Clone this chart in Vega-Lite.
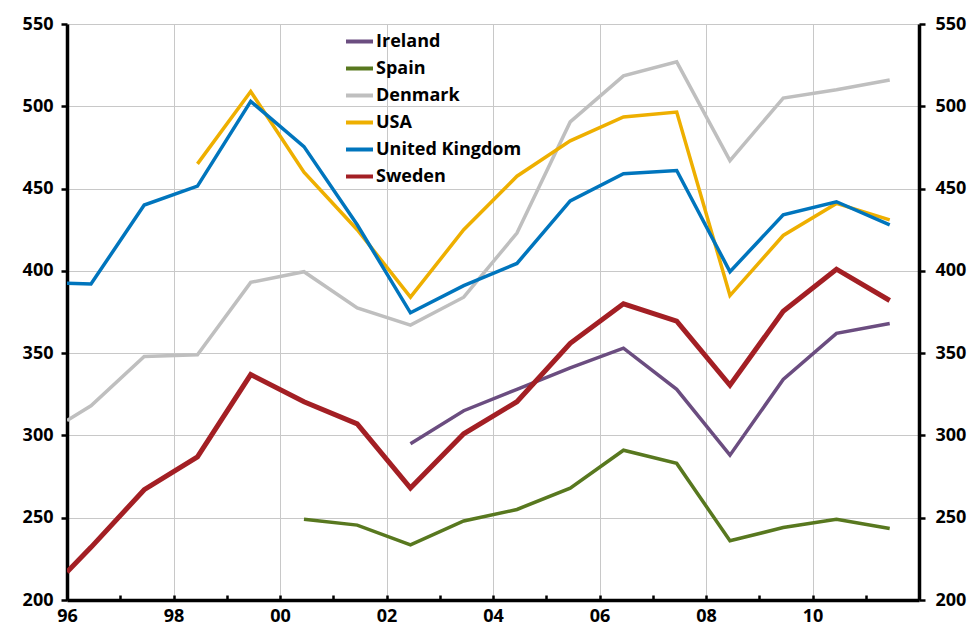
{
  "$schema": "https://vega.github.io/schema/vega-lite/v6.json",
  "width": 852,
  "height": 576,
  "autosize": "none",
  "padding": {"left": 67, "top": 24, "right": 57, "bottom": 34},
  "background": "white",
  "config": {
    "view": {"stroke": null},
    "font": "Open Sans",
    "axis": {"labelFont": "Open Sans", "labelFontWeight": "bold", "labelFontSize": 18, "labelColor": "#000000"}
  },
  "data": {"values": [
    {"c": "Ireland", "x": 2002.45, "v": 295},
    {"c": "Ireland", "x": 2003.45, "v": 315},
    {"c": "Ireland", "x": 2004.45, "v": 328},
    {"c": "Ireland", "x": 2005.45, "v": 341},
    {"c": "Ireland", "x": 2006.45, "v": 353},
    {"c": "Ireland", "x": 2007.45, "v": 328},
    {"c": "Ireland", "x": 2008.45, "v": 288},
    {"c": "Ireland", "x": 2009.45, "v": 334},
    {"c": "Ireland", "x": 2010.45, "v": 362},
    {"c": "Ireland", "x": 2011.45, "v": 368},
    {"c": "Spain", "x": 2000.45, "v": 249},
    {"c": "Spain", "x": 2001.45, "v": 245.5},
    {"c": "Spain", "x": 2002.45, "v": 233.5},
    {"c": "Spain", "x": 2003.45, "v": 248},
    {"c": "Spain", "x": 2004.45, "v": 255},
    {"c": "Spain", "x": 2005.45, "v": 268},
    {"c": "Spain", "x": 2006.45, "v": 291},
    {"c": "Spain", "x": 2007.45, "v": 283},
    {"c": "Spain", "x": 2008.45, "v": 236},
    {"c": "Spain", "x": 2009.45, "v": 244},
    {"c": "Spain", "x": 2010.45, "v": 249},
    {"c": "Spain", "x": 2011.45, "v": 243.5},
    {"c": "Denmark", "x": 1996.0, "v": 309},
    {"c": "Denmark", "x": 1996.45, "v": 318},
    {"c": "Denmark", "x": 1997.45, "v": 348},
    {"c": "Denmark", "x": 1998.45, "v": 349},
    {"c": "Denmark", "x": 1999.45, "v": 393},
    {"c": "Denmark", "x": 2000.45, "v": 399.5},
    {"c": "Denmark", "x": 2001.45, "v": 377.5},
    {"c": "Denmark", "x": 2002.45, "v": 367},
    {"c": "Denmark", "x": 2003.45, "v": 384},
    {"c": "Denmark", "x": 2004.45, "v": 423},
    {"c": "Denmark", "x": 2005.45, "v": 490.5},
    {"c": "Denmark", "x": 2006.45, "v": 518.5},
    {"c": "Denmark", "x": 2007.45, "v": 527},
    {"c": "Denmark", "x": 2008.45, "v": 467},
    {"c": "Denmark", "x": 2009.45, "v": 505},
    {"c": "Denmark", "x": 2010.45, "v": 510},
    {"c": "Denmark", "x": 2011.45, "v": 516},
    {"c": "USA", "x": 1998.45, "v": 465},
    {"c": "USA", "x": 1999.45, "v": 509},
    {"c": "USA", "x": 2000.45, "v": 460},
    {"c": "USA", "x": 2001.45, "v": 425},
    {"c": "USA", "x": 2002.45, "v": 384},
    {"c": "USA", "x": 2003.45, "v": 425},
    {"c": "USA", "x": 2004.45, "v": 457.5},
    {"c": "USA", "x": 2005.45, "v": 479},
    {"c": "USA", "x": 2006.45, "v": 493.5},
    {"c": "USA", "x": 2007.45, "v": 496.5},
    {"c": "USA", "x": 2008.45, "v": 385},
    {"c": "USA", "x": 2009.45, "v": 421.5},
    {"c": "USA", "x": 2010.45, "v": 441},
    {"c": "USA", "x": 2011.45, "v": 431},
    {"c": "United Kingdom", "x": 1996.0, "v": 392.5},
    {"c": "United Kingdom", "x": 1996.45, "v": 392},
    {"c": "United Kingdom", "x": 1997.45, "v": 440},
    {"c": "United Kingdom", "x": 1998.45, "v": 451.5},
    {"c": "United Kingdom", "x": 1999.45, "v": 503},
    {"c": "United Kingdom", "x": 2000.45, "v": 475.5},
    {"c": "United Kingdom", "x": 2001.45, "v": 428},
    {"c": "United Kingdom", "x": 2002.45, "v": 374.5},
    {"c": "United Kingdom", "x": 2003.45, "v": 391},
    {"c": "United Kingdom", "x": 2004.45, "v": 404.5},
    {"c": "United Kingdom", "x": 2005.45, "v": 442.5},
    {"c": "United Kingdom", "x": 2006.45, "v": 459},
    {"c": "United Kingdom", "x": 2007.45, "v": 461},
    {"c": "United Kingdom", "x": 2008.45, "v": 399.5},
    {"c": "United Kingdom", "x": 2009.45, "v": 434},
    {"c": "United Kingdom", "x": 2010.45, "v": 442},
    {"c": "United Kingdom", "x": 2011.45, "v": 428},
    {"c": "Sweden", "x": 1996.0, "v": 217},
    {"c": "Sweden", "x": 1996.45, "v": 232},
    {"c": "Sweden", "x": 1997.45, "v": 267},
    {"c": "Sweden", "x": 1998.45, "v": 287},
    {"c": "Sweden", "x": 1999.45, "v": 337},
    {"c": "Sweden", "x": 2000.45, "v": 320.5},
    {"c": "Sweden", "x": 2001.45, "v": 307},
    {"c": "Sweden", "x": 2002.45, "v": 268},
    {"c": "Sweden", "x": 2003.45, "v": 301},
    {"c": "Sweden", "x": 2004.45, "v": 320.5},
    {"c": "Sweden", "x": 2005.45, "v": 356},
    {"c": "Sweden", "x": 2006.45, "v": 380},
    {"c": "Sweden", "x": 2007.45, "v": 369.5},
    {"c": "Sweden", "x": 2008.45, "v": 330.5},
    {"c": "Sweden", "x": 2009.45, "v": 375.5},
    {"c": "Sweden", "x": 2010.45, "v": 401},
    {"c": "Sweden", "x": 2011.45, "v": 382}
  ]},
  "encoding": {
    "x": {
      "field": "x", "type": "quantitative",
      "scale": {"domain": [1996, 2012], "nice": false, "zero": false},
      "axis": {
        "title": null,
        "values": [1996, 1997, 1998, 1999, 2000, 2001, 2002, 2003, 2004, 2005, 2006, 2007, 2008, 2009, 2010, 2011],
        "labelExpr": "datum.value % 2 == 0 ? slice(toString(datum.value), 2) : ''",
        "grid": true,
        "gridColor": "#C8C8C8",
        "gridWidth": 1,
        "gridOpacity": {"condition": {"test": "datum.value % 2 == 0 && datum.value > 1996", "value": 1}, "value": 0},
        "domainColor": "#000000",
        "domainWidth": 3.5,
        "tickColor": "#000000",
        "tickWidth": 2.5,
        "tickSize": -5,
        "labelPadding": 12,
        "labelFlush": false,
        "labelOverlap": false
      }
    },
    "y": {
      "field": "v", "type": "quantitative",
      "scale": {"domain": [200, 550], "nice": false, "zero": false}
    },
    "color": {
      "field": "c", "type": "nominal",
      "scale": {
        "domain": ["Ireland", "Spain", "Denmark", "USA", "United Kingdom", "Sweden"],
        "range": ["#6B4D80", "#58781F", "#BFBFBF", "#EEAF00", "#0075BD", "#A31F24"]
      },
      "legend": {
        "title": null,
        "orient": "none",
        "legendX": 277,
        "legendY": 2,
        "symbolType": "stroke",
        "symbolSize": 729,
        "symbolStrokeWidth": 4,
        "labelFont": "Open Sans",
        "labelFontSize": 18,
        "labelFontWeight": "bold",
        "labelColor": "#000000",
        "labelOffset": 1,
        "rowPadding": 2
      }
    }
  },
  "layer": [
    {
      "transform": [{"filter": "datum.c != 'Sweden'"}],
      "mark": {"type": "line", "strokeWidth": 3.5, "clip": true},
      "encoding": {
        "y": {
          "field": "v", "type": "quantitative",
          "axis": {
            "title": null,
            "orient": "left",
            "values": [200, 250, 300, 350, 400, 450, 500, 550],
            "grid": true,
            "gridColor": "#C8C8C8",
            "gridWidth": 1,
            "domainColor": "#000000",
            "domainWidth": 3.5,
            "tickColor": "#000000",
            "tickWidth": 2.5,
            "tickSize": 6,
            "labelPadding": 8
          }
        }
      }
    },
    {
      "transform": [{"filter": "datum.c == 'Sweden'"}],
      "mark": {"type": "line", "strokeWidth": 5, "clip": true},
      "encoding": {
        "y": {
          "field": "v", "type": "quantitative",
          "axis": {
            "title": null,
            "orient": "right",
            "values": [200, 250, 300, 350, 400, 450, 500, 550],
            "grid": false,
            "domainColor": "#000000",
            "domainWidth": 3.5,
            "tickColor": "#000000",
            "tickWidth": 2.5,
            "tickSize": 6,
            "labelPadding": 10
          }
        }
      }
    }
  ],
  "resolve": {"axis": {"y": "independent"}}
}
